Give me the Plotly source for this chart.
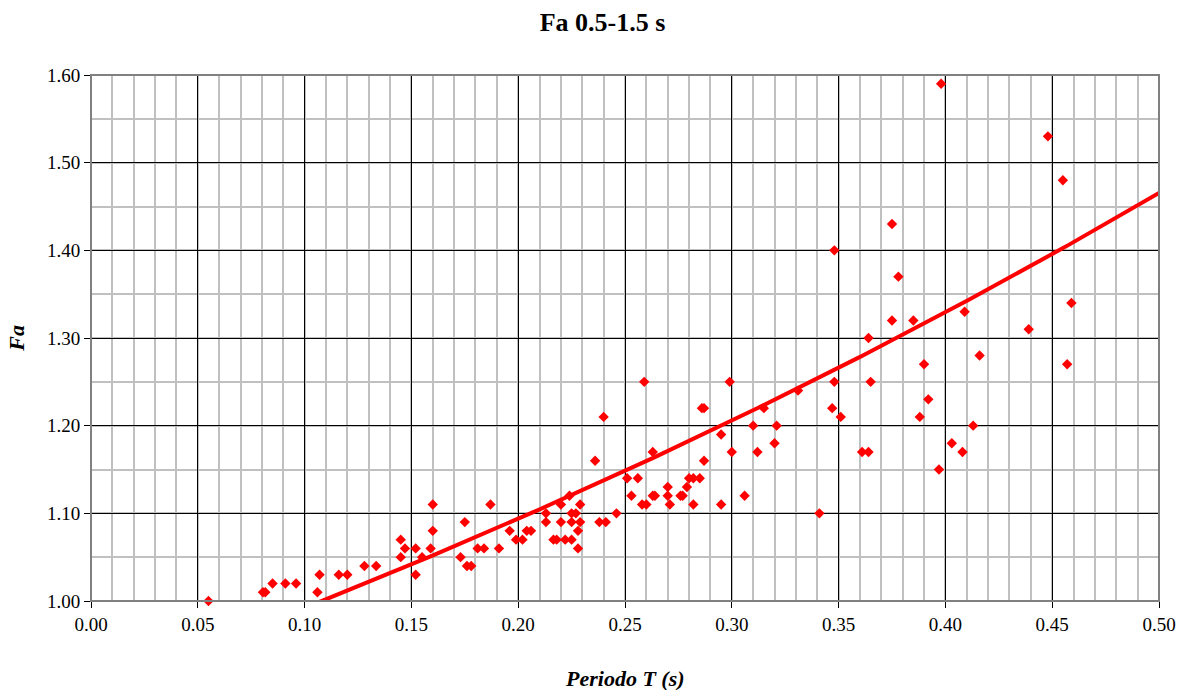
import numpy as np
import plotly.graph_objects as go

# Data
periodo_T = [
    0.055, 0.0805, 0.0816, 0.085, 0.091, 0.096, 0.106, 0.107, 0.116, 0.120,
    0.128, 0.1335, 0.145, 0.145, 0.147, 0.152, 0.152, 0.155, 0.159, 0.160,
    0.160, 0.173, 0.175, 0.176, 0.178, 0.181, 0.184, 0.187, 0.191, 0.196,
    0.199, 0.202, 0.204, 0.206, 0.213, 0.213, 0.2165, 0.218, 0.220, 0.220,
    0.222, 0.224, 0.225, 0.225, 0.225, 0.227, 0.228, 0.228, 0.229, 0.229,
    0.236, 0.238, 0.240, 0.241, 0.246, 0.251, 0.253, 0.256, 0.258, 0.259,
    0.260, 0.263, 0.263, 0.264, 0.270, 0.270, 0.271, 0.276, 0.277, 0.279,
    0.280, 0.282, 0.282, 0.285, 0.286, 0.287, 0.287, 0.295, 0.295, 0.299,
    0.300, 0.306, 0.310, 0.312, 0.315, 0.320, 0.321, 0.331, 0.341, 0.347,
    0.348, 0.348, 0.351, 0.361, 0.364, 0.364, 0.365, 0.375, 0.375, 0.378,
    0.385, 0.388, 0.390, 0.392, 0.397, 0.398, 0.403, 0.408, 0.409, 0.413,
    0.416, 0.439, 0.448, 0.455, 0.457, 0.459,
]
fa_values = [
    1.00, 1.01, 1.01, 1.02, 1.02, 1.02, 1.01, 1.03, 1.03, 1.03,
    1.04, 1.04, 1.07, 1.05, 1.06, 1.06, 1.03, 1.05, 1.06, 1.11,
    1.08, 1.05, 1.09, 1.04, 1.04, 1.06, 1.06, 1.11, 1.06, 1.08,
    1.07, 1.07, 1.08, 1.08, 1.10, 1.09, 1.07, 1.07, 1.11, 1.09,
    1.07, 1.12, 1.10, 1.09, 1.07, 1.10, 1.08, 1.06, 1.11, 1.09,
    1.16, 1.09, 1.21, 1.09, 1.10, 1.14, 1.12, 1.14, 1.11, 1.25,
    1.11, 1.17, 1.12, 1.12, 1.13, 1.12, 1.11, 1.12, 1.12, 1.13,
    1.14, 1.14, 1.11, 1.14, 1.22, 1.22, 1.16, 1.19, 1.11, 1.25,
    1.17, 1.12, 1.20, 1.17, 1.22, 1.18, 1.20, 1.24, 1.10, 1.22,
    1.25, 1.40, 1.21, 1.17, 1.17, 1.30, 1.25, 1.43, 1.32, 1.37,
    1.32, 1.21, 1.27, 1.23, 1.15, 1.59, 1.18, 1.17, 1.33, 1.20,
    1.28, 1.31, 1.53, 1.48, 1.27, 1.34,
]
x_ticks = [0.00, 0.05, 0.10, 0.15, 0.20, 0.25, 0.30, 0.35, 0.40, 0.45, 0.50]
y_ticks = [1.00, 1.10, 1.20, 1.30, 1.40, 1.50, 1.60]

# Exponential trendline Fa = a * exp(b * T), coefficients
trend_a = 0.900
trend_b = 0.975
x_trend = np.linspace(min(periodo_T), 0.5, 200)
y_trend = trend_a * np.exp(trend_b * x_trend)

serif = "Liberation Serif, Times New Roman, serif"

fig = go.Figure()
fig.add_trace(go.Scatter(
    x=x_trend, y=y_trend, mode="lines",
    line=dict(color="#FF0000", width=4), hoverinfo="skip", showlegend=False,
))
fig.add_trace(go.Scatter(
    x=periodo_T, y=fa_values, mode="markers", cliponaxis=False,
    marker=dict(symbol="diamond", size=8, color="#FF0000"),
    showlegend=False,
))

fig.update_layout(
    width=1188, height=690,
    margin=dict(l=91, r=27, t=75, b=89),
    paper_bgcolor="white", plot_bgcolor="white",
    title=dict(text="<b>Fa 0.5-1.5 s</b>", x=0.479, xref="paper", xanchor="center",
               y=0.968, yref="container", yanchor="middle",
               font=dict(family=serif, size=26, color="black")),
    font=dict(family=serif, size=19, color="black"),
)
fig.update_xaxes(
    range=[0, 0.5], tickvals=x_ticks, ticktext=[f"{v:.2f}" for v in x_ticks],
    showgrid=True, gridcolor="black", gridwidth=1,
    minor=dict(dtick=0.01, showgrid=True, gridcolor="#C0C0C0", gridwidth=1.5),
    ticks="outside", ticklen=6, tickcolor="black",
    showline=True, linecolor="black", linewidth=1,
    zeroline=False, tickfont=dict(family=serif, size=19),
)
fig.update_yaxes(
    range=[1.0, 1.6], tickvals=y_ticks, ticktext=[f"{v:.2f}" for v in y_ticks],
    showgrid=True, gridcolor="black", gridwidth=1,
    minor=dict(dtick=0.05, showgrid=True, gridcolor="#C0C0C0", gridwidth=1.5),
    ticks="outside", ticklen=6, tickcolor="black",
    showline=True, linecolor="black", linewidth=1,
    zeroline=False, tickfont=dict(family=serif, size=19),
)
# plot-area border
fig.add_shape(type="rect", xref="paper", yref="paper", x0=0, y0=0, x1=1, y1=1,
              line=dict(color="#808080", width=2), layer="above")
fig.add_annotation(text="<b><i>Periodo T (s)</i></b>", xref="paper", yref="paper",
                   x=0.5, y=-0.1464, yanchor="middle", showarrow=False,
                   font=dict(family=serif, size=22, color="black"))
fig.add_annotation(text="<b><i>Fa</i></b>", xref="paper", yref="paper",
                   x=-0.0705, y=0.5, xanchor="center", textangle=-90, showarrow=False,
                   font=dict(family=serif, size=22, color="black"))

fig.write_html("out.html", config={"displayModeBar": False},
               post_script="document.body.style.margin='0';")
